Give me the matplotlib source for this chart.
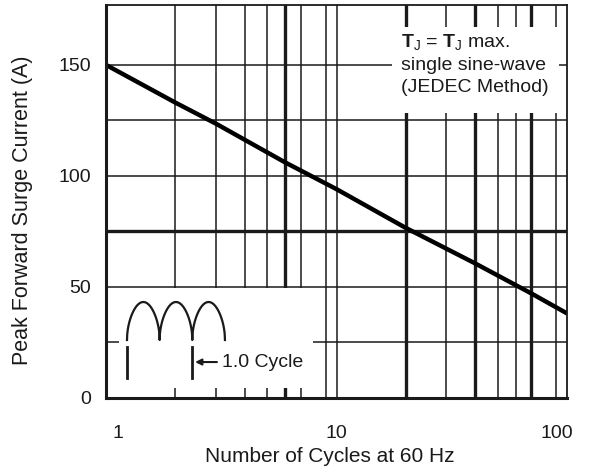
import numpy as np
import matplotlib
matplotlib.use("Agg")
from matplotlib import pyplot as plt
from matplotlib.patches import Rectangle
from matplotlib.transforms import ScaledTranslation

plt.rcParams['font.family'] = ['Liberation Sans', 'DejaVu Sans']
plt.rcParams['mathtext.fontset'] = 'custom'
plt.rcParams['mathtext.rm'] = 'Liberation Sans'
plt.rcParams['mathtext.bf'] = 'Liberation Sans:bold'

# surge curve
cycles = [1, 2, 3, 6, 10, 20, 40, 70, 100]
surge_amps = [150, 133, 123.5, 106, 94, 76.5, 60.5, 47, 38]

# grid layout
x_major = [1, 10, 100]
x_major_labels = ["1", "10", "100"]
x_thin = [2, 3, 4, 5, 7, 9, 10, 30, 50, 60, 90]
x_thick = [6, 20, 40, 70]
y_major = [0, 50, 100, 150]
y_thin = [25, 50, 100, 125, 150]
y_thick = [75]

ink = '#1a1a1a'

fig = plt.figure(figsize=(5.94, 4.74), dpi=100)
W, H = 594, 474
ax = fig.add_axes([106 / W, 1 - 397.7 / H, (567 - 106) / W, (397.7 - 5) / H])
ax.set_xscale('log')
ax.set_xlim(1, 100)
ax.set_ylim(0, 177)

for x in x_thin:
    ax.axvline(x, color=ink, lw=1.1, zorder=1)
for x in x_thick:
    ax.axvline(x, color=ink, lw=2.4, zorder=1)
for y in y_thin:
    ax.axhline(y, color=ink, lw=1.1, zorder=1)
for y in y_thick:
    ax.axhline(y, color=ink, lw=2.4, zorder=1)

# white areas for the note and the waveform sketch
ax.add_patch(Rectangle((17.4, 128.5), 92.3 - 17.4, 167 - 128.5, facecolor='white',
                       edgecolor='none', zorder=2))
ax.add_patch(Rectangle((1.14, 4.2), 7.9 - 1.14, 49.4 - 4.2, facecolor='white',
                       edgecolor='none', zorder=2))

ax.plot(cycles, surge_amps, color='black', lw=3.2, zorder=4, solid_capstyle='butt')

ax.set_xticks(x_major)
ax.set_xticklabels(x_major_labels)
ax.set_xticks([], minor=True)
ax.set_yticks(y_major)
ax.tick_params(length=0, labelsize=14, colors=ink)
ax.tick_params(axis='x', pad=20)
ax.tick_params(axis='y', pad=11)
shifts = [12, 0, -10]
for lab, dx in zip(ax.get_xticklabels(), shifts):
    lab.set_transform(lab.get_transform() + ScaledTranslation(dx / 100, 0, fig.dpi_scale_trans))

for side in ['left', 'bottom']:
    ax.spines[side].set_linewidth(2.2)
for side in ['top', 'right']:
    ax.spines[side].set_linewidth(1.3)
for s in ax.spines.values():
    s.set_color(ink)
    s.set_zorder(5)

ax.set_xlabel("Number of Cycles at 60 Hz", fontsize=15, color=ink)
ax.set_ylabel("Peak Forward Surge Current (A)", fontsize=15.5, color=ink)
ax.xaxis.set_label_coords(0.486, -0.125)
ax.yaxis.set_label_coords(-0.158, 0.478)

note_x = (401 - 106) / 461
ax.text(note_x, 0.903, r"$\mathbf{T}_{\mathrm{J}}$ = $\mathbf{T}_{\mathrm{J}}$ max.",
        transform=ax.transAxes, fontsize=14, va='center', ha='left', color=ink, zorder=6)
ax.text(note_x, 0.847, "single sine-wave", transform=ax.transAxes, fontsize=14,
        va='center', ha='left', color=ink, zorder=6)
ax.text(note_x, 0.789, "(JEDEC Method)", transform=ax.transAxes, fontsize=14,
        va='center', ha='left', color=ink, zorder=6)

# half-sine waveform sketch
px_per_cycle = 65.3
px_per_amp = 38
ins = fig.add_axes([119 / W, 1 - 388 / H, (313 - 119) / W, (388 - 290) / H])
ins.set_xlim((119 - 127) / px_per_cycle, (313 - 127) / px_per_cycle)
ins.set_ylim((340 - 388) / px_per_amp, (340 - 290) / px_per_amp)
ins.axis('off')
t = np.linspace(0, 1.5, 400)
ins.plot(t, np.abs(np.sin(2 * np.pi * t)) ** 0.5, color=ink, lw=1.6)
for tb in [0, 1.0]:
    ins.plot([tb, tb], [-0.18, -1.0], color=ink, lw=2)
ins.annotate("", xy=(1.0, -0.58), xytext=(1.42, -0.58),
             arrowprops=dict(arrowstyle='-|>', color=ink, lw=1.5, mutation_scale=9))
ins.text(1.45, -0.58, "1.0 Cycle", fontsize=14, va='center', ha='left', color=ink)

fig.savefig("out.png", dpi=100)
